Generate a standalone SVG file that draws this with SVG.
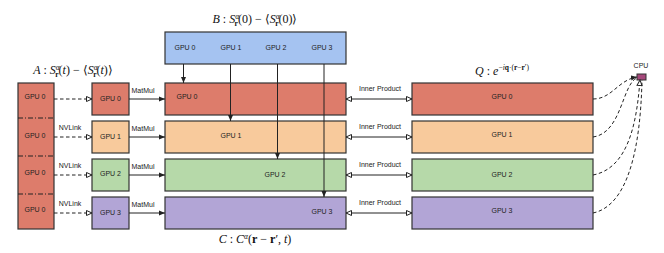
<svg xmlns="http://www.w3.org/2000/svg" width="664" height="253" viewBox="0 0 664 253">
<style>
.box{stroke:#333;stroke-width:1.2}
.red{fill:#dd7c6b}.org{fill:#f8ca9c}.grn{fill:#b6d9a9}.pur{fill:#b2a5d6}.blu{fill:#a5c3f1}
.lbl{font-family:"Liberation Sans",Arial,sans-serif;font-size:7px;fill:#222222;text-anchor:middle}
.math{font-family:"Liberation Serif","Times New Roman",serif;font-size:12px;fill:#111111;text-anchor:middle}
.it{font-style:italic}
.bf{font-weight:bold}
.ln{stroke:#222;stroke-width:1;fill:none}
.dash{stroke-dasharray:3.5,2.5}
.dd{stroke:#222;stroke-width:1;stroke-dasharray:5,2,1,2}
</style>
<defs>
<marker id="af" markerWidth="6" markerHeight="6" refX="6" refY="3" orient="auto" markerUnits="userSpaceOnUse"><path d="M0,0.5 L6,3 L0,5.5 z" fill="#222"/></marker>
<marker id="ao" markerWidth="7" markerHeight="7" refX="6" refY="3.5" orient="auto" markerUnits="userSpaceOnUse"><path d="M0.5,1 L6,3.5 L0.5,6 z" fill="#fff" stroke="#222" stroke-width="1"/></marker>
<marker id="aos" markerWidth="7" markerHeight="7" refX="0.5" refY="3.5" orient="auto" markerUnits="userSpaceOnUse"><path d="M6,1 L0.5,3.5 L6,6 z" fill="#fff" stroke="#222" stroke-width="1"/></marker>
</defs>

<g id="A">
<rect class="box red" x="18" y="83" width="36" height="146"/>
<line class="dd" x1="18" y1="118" x2="54" y2="118"/>
<line class="dd" x1="18" y1="156" x2="54" y2="156"/>
<line class="dd" x1="18" y1="194" x2="54" y2="194"/>
<text class="lbl" x="35" y="99">GPU 0</text>
<text class="lbl" x="35" y="138">GPU 0</text>
<text class="lbl" x="35" y="175">GPU 0</text>
<text class="lbl" x="35" y="212">GPU 0</text>
<text class="math" x="73" y="74"><tspan class="it">A</tspan> : <tspan class="it">S</tspan><tspan class="it" font-size="7.5" dy="-4.5">α</tspan><tspan class="bf" font-size="7.5" dx="-4.5" dy="7.5">r</tspan><tspan dy="-3">(</tspan><tspan class="it">t</tspan>) − ⟨<tspan class="it">S</tspan><tspan class="it" font-size="7.5" dy="-4.5">α</tspan><tspan class="bf" font-size="7.5" dx="-4.5" dy="7.5">r</tspan><tspan dy="-3">(</tspan><tspan class="it">t</tspan>)⟩</text>
</g>

<g id="small0"><rect class="box red" x="92" y="83" width="37" height="32"/><text class="lbl" x="110.5" y="101">GPU 0</text></g>
<g id="small1"><rect class="box org" x="92" y="121" width="37" height="32"/><text class="lbl" x="110.5" y="139">GPU 1</text></g>
<g id="small2"><rect class="box grn" x="92" y="159" width="37" height="32"/><text class="lbl" x="110.5" y="176">GPU 2</text></g>
<g id="small3"><rect class="box pur" x="92" y="197" width="37" height="32"/><text class="lbl" x="110.5" y="215">GPU 3</text></g>

<g id="B">
<rect class="box blu" x="165" y="32" width="181" height="32"/>
<text class="lbl" x="185" y="50">GPU 0</text>
<text class="lbl" x="231" y="50">GPU 1</text>
<text class="lbl" x="276" y="50">GPU 2</text>
<text class="lbl" x="322" y="50">GPU 3</text>
<text class="math" x="255" y="23"><tspan class="it">B</tspan> : <tspan class="it">S</tspan><tspan class="it" font-size="7.5" dy="-4.5">α</tspan><tspan class="bf" font-size="7.5" dx="-4.5" dy="7.5">r</tspan><tspan dy="-3">(0) − ⟨</tspan><tspan class="it">S</tspan><tspan class="it" font-size="7.5" dy="-4.5">α</tspan><tspan class="bf" font-size="7.5" dx="-4.5" dy="7.5">r</tspan><tspan dy="-3">(0)⟩</tspan></text>
</g>

<g id="C0"><rect class="box red" x="165" y="83" width="181" height="32"/><text class="lbl" x="187" y="99">GPU 0</text></g>
<g id="C1"><rect class="box org" x="165" y="121" width="181" height="32"/><text class="lbl" x="231" y="138">GPU 1</text></g>
<g id="C2"><rect class="box grn" x="165" y="159" width="181" height="32"/><text class="lbl" x="275" y="176.5">GPU 2</text></g>
<g id="C3"><rect class="box pur" x="165" y="197" width="181" height="32"/><text class="lbl" x="322" y="213.5">GPU 3</text></g>
<g id="Clabel"><text class="math" x="255" y="243"><tspan class="it">C</tspan> : <tspan class="it">C</tspan><tspan class="it" font-size="7.5" dy="-4.5">α</tspan><tspan dy="4.5">(</tspan><tspan class="bf">r</tspan> − <tspan class="bf">r</tspan>′, <tspan class="it">t</tspan>)</text></g>

<g id="Q0"><rect class="box red" x="412" y="83" width="181" height="32"/><text class="lbl" x="502" y="99">GPU 0</text></g>
<g id="Q1"><rect class="box org" x="412" y="121" width="181" height="32"/><text class="lbl" x="502" y="137">GPU 1</text></g>
<g id="Q2"><rect class="box grn" x="412" y="159" width="181" height="32"/><text class="lbl" x="502" y="176.5">GPU 2</text></g>
<g id="Q3"><rect class="box pur" x="412" y="197" width="181" height="32"/><text class="lbl" x="502" y="212.5">GPU 3</text></g>
<g id="Qlabel"><text class="math" x="502" y="75"><tspan class="it">Q</tspan> : <tspan class="it">e</tspan><tspan font-size="7.5" dy="-5">−<tspan class="it">i</tspan><tspan class="bf">q</tspan>·(<tspan class="bf">r</tspan>−<tspan class="bf">r</tspan>′)</tspan></text></g>

<g id="CPU"><rect x="637" y="74" width="9" height="6" fill="#a5487b" stroke="#333" stroke-width="1"/><text class="lbl" x="641" y="68" font-size="6" fill="#333">CPU</text></g>

<g id="connectors">
<line class="ln dash" x1="54" y1="99" x2="92" y2="99" marker-end="url(#ao)"/>
<line class="ln dash" x1="54" y1="137" x2="92" y2="137" marker-end="url(#ao)"/>
<line class="ln dash" x1="54" y1="175" x2="92" y2="175" marker-end="url(#ao)"/>
<line class="ln dash" x1="54" y1="213" x2="92" y2="213" marker-end="url(#ao)"/>
<text class="lbl" x="70" y="130">NVLink</text>
<text class="lbl" x="70" y="168">NVLink</text>
<text class="lbl" x="70" y="206">NVLink</text>

<line class="ln" x1="129" y1="99" x2="165" y2="99" marker-end="url(#af)"/>
<line class="ln" x1="129" y1="137" x2="165" y2="137" marker-end="url(#af)"/>
<line class="ln" x1="129" y1="175" x2="165" y2="175" marker-end="url(#af)"/>
<line class="ln" x1="129" y1="213" x2="165" y2="213" marker-end="url(#af)"/>
<text class="lbl" x="143" y="93">MatMul</text>
<text class="lbl" x="143" y="131">MatMul</text>
<text class="lbl" x="143" y="169">MatMul</text>
<text class="lbl" x="143" y="207">MatMul</text>

<line class="ln" x1="183.5" y1="64" x2="183.5" y2="83" marker-end="url(#af)"/>
<line class="ln" x1="230.5" y1="64" x2="230.5" y2="121" marker-end="url(#af)"/>
<line class="ln" x1="277.5" y1="64" x2="277.5" y2="159" marker-end="url(#af)"/>
<line class="ln" x1="324" y1="64" x2="324" y2="197" marker-end="url(#af)"/>

<line class="ln" x1="346" y1="99" x2="412" y2="99" marker-start="url(#aos)" marker-end="url(#ao)"/>
<line class="ln" x1="346" y1="137" x2="412" y2="137" marker-start="url(#aos)" marker-end="url(#ao)"/>
<line class="ln" x1="346" y1="175" x2="412" y2="175" marker-start="url(#aos)" marker-end="url(#ao)"/>
<line class="ln" x1="346" y1="213" x2="412" y2="213" marker-start="url(#aos)" marker-end="url(#ao)"/>
<text class="lbl" x="380" y="91">Inner Product</text>
<text class="lbl" x="380" y="129">Inner Product</text>
<text class="lbl" x="380" y="167">Inner Product</text>
<text class="lbl" x="380" y="205">Inner Product</text>

<path class="ln dash" d="M593,99 C612,99 618,80 637,77" marker-end="url(#af)"/>
<path class="ln dash" d="M593,137 C622,133 622,84 637,78"/>
<path class="ln dash" d="M593,175 C630,168 637,118 640,80" marker-end="url(#ao)"/>
<path class="ln dash" d="M593,213 C636,204 641,120 642,80"/>
</g>
</svg>
